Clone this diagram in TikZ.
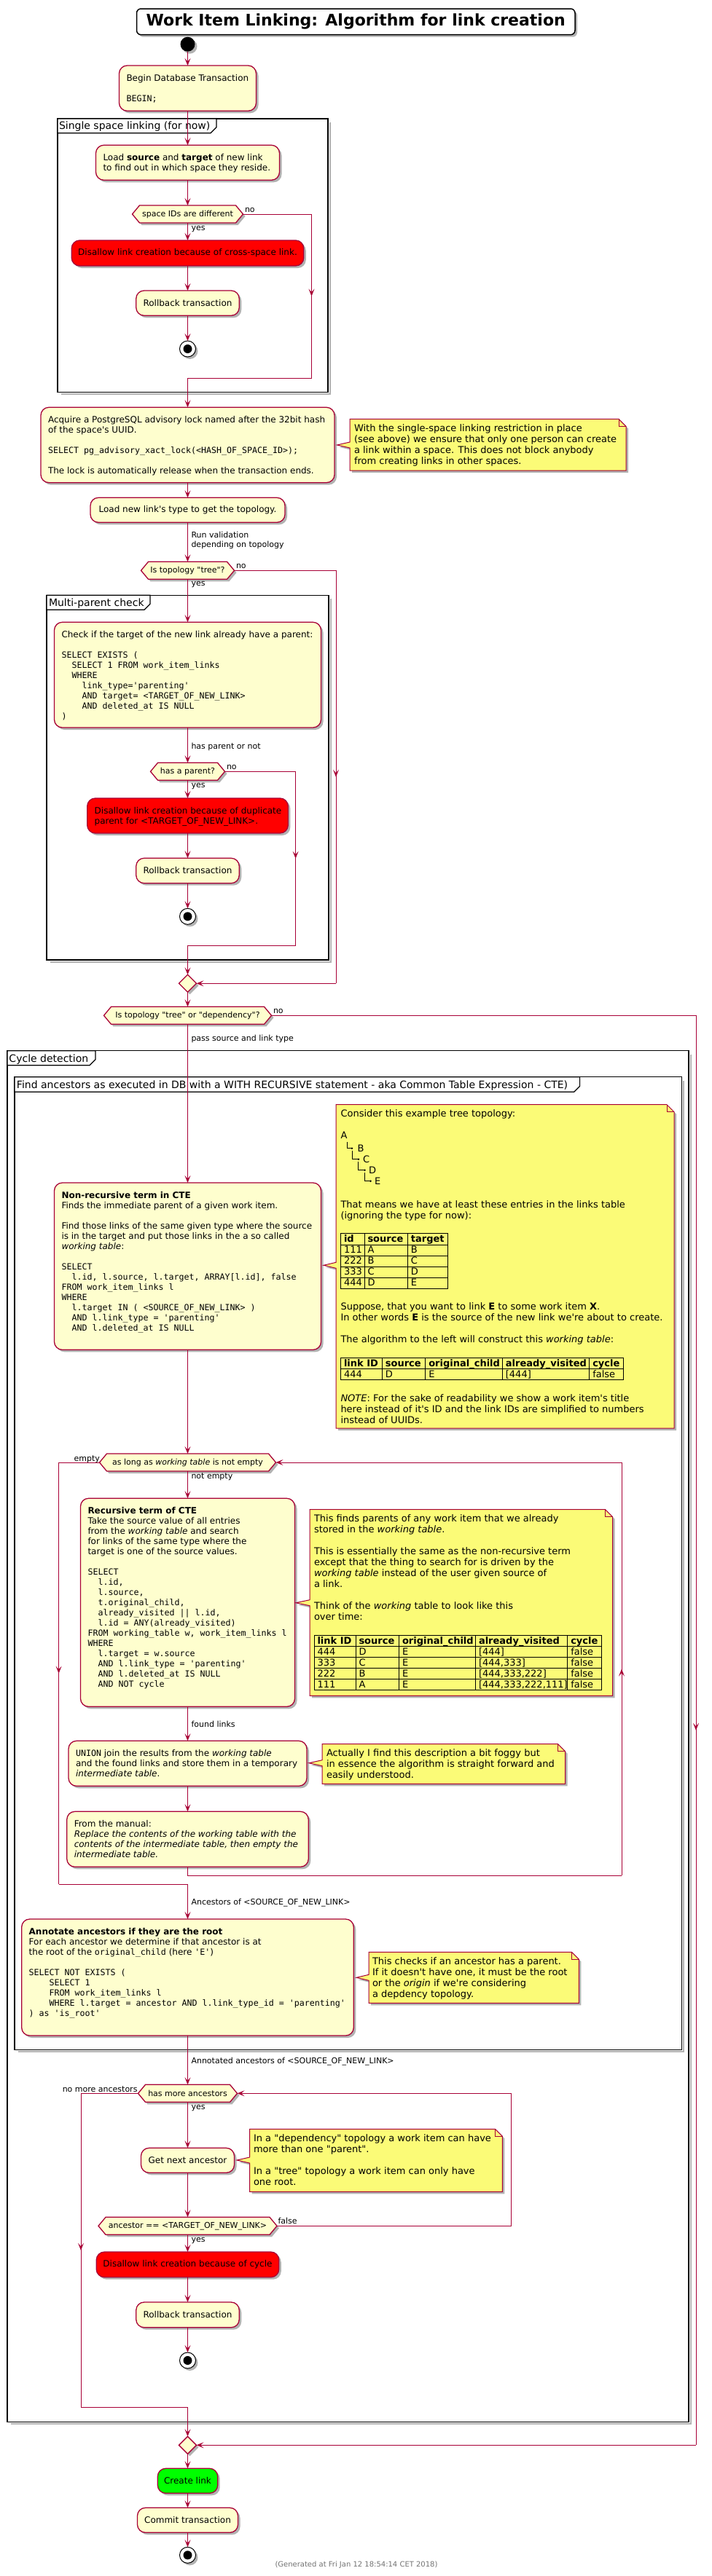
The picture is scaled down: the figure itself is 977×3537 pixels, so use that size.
\documentclass[tikz,border=0pt]{standalone}
\usepackage{fontspec}
\setmainfont{DejaVu Sans}
\newfontfamily\pumlfont{DejaVu Sans}
\newfontfamily\pumlmono{DejaVu Sans Mono}
\usetikzlibrary{arrows.meta,shadows,shapes.geometric,decorations.markings}

\definecolor{pbord}{HTML}{A80036}
\definecolor{pfill}{HTML}{FEFECE}
\definecolor{nfill}{HTML}{FBFB77}

\newcommand\actfont{\pumlfont\fontsize{12}{14}\selectfont}
\newcommand\notefont{\pumlfont\fontsize{13}{15}\selectfont}
\newcommand\lblfont{\pumlfont\fontsize{11}{13}\selectfont}
\newcommand\grpfont{\pumlfont\fontsize{14}{16}\selectfont}
\newcommand\titlefont{\pumlfont\bfseries\fontsize{22}{26}\selectfont}
\newcommand\footfont{\pumlfont\fontsize{10}{12}\selectfont}
\newcommand\mono[1]{{\pumlmono\fontsize{11.63}{14}\selectfont #1}}
\newcommand\bl{\mbox{}}
\newcommand\sk[1]{\hspace*{#1pt}}

\tikzset{
  every node/.style={inner sep=0pt, outer sep=0pt},
  shad/.style={drop shadow={shadow xshift=3pt, shadow yshift=-3pt, opacity=0.3, fill=black}},
  actbox/.style={draw=pbord, fill=pfill, line width=1.3pt, rounded corners=11pt, shad, anchor=north, font=\actfont},
  atext/.style={anchor=north west, align=left, font=\actfont},
  ntext/.style={anchor=north west, align=left, font=\notefont},
  lbl/.style={font=\lblfont, align=left},
  flow/.style={color=pbord, line width=1pt},
  arr/.style={flow, -{Stealth[length=10pt, width=8pt, inset=4.5pt]}},
  midarr/.style={postaction={decorate, decoration={markings, mark=at position 0.5 with {\arrow{Stealth[length=10pt, width=8pt, inset=4.5pt]}}}}},
  notebox/.style={draw=pbord, fill=nfill, line width=1pt, shad},
  hexshape/.style={draw=pbord, fill=pfill, line width=1.3pt, shad},
  grp/.style={draw=black, line width=1.5pt},
  grpshadow/.style={draw=black!30, line width=2pt},
  tbl/.style={draw=black, line width=1pt},
  stopc/.style={circle, draw=black, fill=white, line width=1pt, minimum size=22, shad,
    path picture={\fill[black] (path picture bounding box.center) circle[radius=6pt];}},
  mergec/.style={diamond, draw=pbord, fill=pfill, line width=1.3pt, minimum width=24, minimum height=24, shad},
}

\newcommand\hexdec[5]{%
  \path[hexshape] ({#2-#4},#3) -- ({#2-#4+10},{#3-12}) -- ({#2+#4-10},{#3-12}) -- ({#2+#4},#3) -- ({#2+#4-10},{#3+12}) -- ({#2-#4+10},{#3+12}) -- cycle;
  \node[font=\lblfont, minimum width={2*#4}, minimum height=24] (#1) at (#2,#3) {#5};
}
\newcommand\notepath[6]{%
  \path[notebox] (#1,#2) -- ({#3-10},#2) -- (#3,{#2+10}) -- (#3,#4) -- (#1,#4) -- (#1,{#6+4}) -- (#5,#6) -- (#1,{#6-4}) -- cycle;
  \draw[color=pbord, line width=1pt] ({#3-10},#2) -- ({#3-10},{#2+10}) -- (#3,{#2+10});
}
\newcommand\grpframe[9]{%
  \draw[grpshadow] ({#3+2.5},{#2+5}) -- ({#3+2.5},{#4+2.5}) -- ({#1+5},{#4+2.5});
  \draw[grp] (#1,#2) rectangle (#3,#4);
  \draw[grp, line width=1.2pt, fill=white] (#1,#2) -- (#5,#2) -- (#5,{#6-8}) -- ({#5-8},#6) -- (#1,#6) -- cycle;
  \node[font=\grpfont, anchor=base west] at (#8,#9) {#7};
}
\newcommand\tc[3]{\node[font=\notefont, anchor=base west] at (#1,#2) {#3};}

\begin{document}
\begin{tikzpicture}[x=1pt,y=-1pt]
\fill[white] (0,0) rectangle (977,3537);
\useasboundingbox (0,0) rectangle (977,3537);

% ---------------- groups ----------------
\grpframe{79}{163}{450}{538.7}{297}{182.7}{Single space linking (for now)}{81}{177.4}
\grpframe{64}{817.3}{451}{1318}{206}{837.3}{Multi-parent check}{67}{832.3}
\grpframe{10}{1442.7}{945}{3325.3}{131}{1462.7}{Cycle detection}{12.5}{1458.4}
\grpframe{20}{1478.7}{935.6}{2814.7}{795.6}{1499.3}{Find ancestors as executed in DB with a WITH RECURSIVE statement - aka Common Table Expression - CTE)}{23}{1494.4}

% ---------------- title ----------------
\node[draw=black, fill=white, line width=1.5pt, rounded corners=6pt, minimum width=601.5, minimum height=35.7, font=\titlefont, shad] (title) at (488.25,29.85) {Work Item Linking: Algorithm for link creation};

% ---------------- top part ----------------
\node[circle, fill=black, minimum size=20, shad] (start) at (257.5,60.7) {};

\node[actbox, minimum width=188, minimum height=62.3] (begin) at (257.5,90) {};
\node[atext] (tbegin) at (173.5,101.7) {\strut Begin Database Transaction\\\bl\\\mono{BEGIN;}};

\node[actbox, minimum width=252, minimum height=48] (load1) at (257.5,199.3) {};
\node[atext] (tload1) at (141.5,211) {\strut Load \textbf{source} and \textbf{target} of new link\\to find out in which space they reside.};

\hexdec{d1}{257.5}{294}{76}{space IDs are different}
\node[lbl, anchor=base west] (d1no) at (336,291.7) {no};
\node[lbl, anchor=base west] (d1yes) at (262.5,316.3) {yes};

\node[actbox, fill=red, minimum width=318.5, minimum height=35] (red1) at (257.5,330) {Disallow link creation because of cross-space link.};
\node[actbox, minimum width=141.5, minimum height=34.3] (rb1) at (257.5,399) {Rollback transaction};
\node[stopc] (stop1) at (257.5,479) {};

\node[actbox, minimum width=403, minimum height=103.4] (acq) at (257.5,559.3) {};
\node[atext] (tacq) at (66,571) {\strut Acquire a PostgreSQL advisory lock named after the 32bit hash\\of the space's UUID.\\\bl\\\mono{SELECT pg\_advisory\_xact\_lock(<HASH\_OF\_SPACE\_ID>);}\\\bl\\The lock is automatically release when the transaction ends.};

\notepath{480}{575.3}{859}{646}{462.5}{611}
\node[ntext] (tn1) at (486,581.8) {\strut With the single-space linking restriction in place\\(see above) we ensure that only one person can create\\a link within a space. This does not block anybody\\from creating links in other spaces.};

\node[actbox, minimum width=267, minimum height=34] (load2) at (257.5,683.3) {Load new link's type to get the topology.};
\node[lbl, anchor=north west] (lrun) at (262.5,729.2) {\strut Run validation\\depending on topology};

\hexdec{d2}{257.5}{783.3}{64}{Is topology "tree"?}
\node[lbl, anchor=base west] (d2no) at (324,780.3) {no};
\node[lbl, anchor=base west] (d2yes) at (262.5,804.3) {yes};

\node[actbox, minimum width=366, minimum height=144.7] (check) at (257.5,854.3) {};
\node[atext] (tcheck) at (84.5,866) {\strut Check if the target of the new link already have a parent:\\\bl\\\mono{SELECT EXISTS (}\\\mono{\sk{14}SELECT 1 FROM work\_item\_links}\\\mono{\sk{14}WHERE}\\\mono{\sk{28}link\_type='parenting'}\\\mono{\sk{28}AND target= <TARGET\_OF\_NEW\_LINK>}\\\mono{\sk{28}AND deleted\_at IS NULL}\\\mono{)}};

\node[lbl, anchor=base west] (lhas) at (262.5,1028.3) {has parent or not};
\hexdec{d3}{257.5}{1059.3}{51}{has a parent?}
\node[lbl, anchor=base west] (d3no) at (311,1056.3) {no};
\node[lbl, anchor=base west] (d3yes) at (262.5,1081.7) {yes};

\node[actbox, fill=red, minimum width=275.6, minimum height=48] (red2) at (257.5,1096) {};
\node[atext] (tred2) at (129.7,1107.7) {\strut Disallow link creation because of duplicate\\parent for <TARGET\_OF\_NEW\_LINK>.};
\node[actbox, minimum width=141.5, minimum height=34.4] (rb2) at (257.5,1178.3) {Rollback transaction};
\node[stopc] (stop2) at (257.5,1258.3) {};

\node[mergec] (m1) at (257.5,1350.3) {};

\hexdec{d4}{257.5}{1394.3}{115}{Is topology "tree" or "dependency"?}
\node[lbl, anchor=base west] (d4no) at (375,1391.7) {no};
\node[lbl, anchor=base west] (lpass) at (262.5,1429.3) {pass source and link type};

% ---------------- CTE part ----------------
\node[actbox, minimum width=366, minimum height=229.3] (nonrec) at (257.5,1624) {};
\node[atext] (tnonrec) at (84.5,1635.7) {\strut\textbf{Non-recursive term in CTE}\\Finds the immediate parent of a given work item.\\\bl\\Find those links of the same given type where the source\\is in the target and put those links in the a so called\\\textit{working table}:\\\bl\\\mono{SELECT}\\\mono{\sk{14}l.id, l.source, l.target, ARRAY[l.id], false}\\\mono{FROM work\_item\_links l}\\\mono{WHERE}\\\mono{\sk{14}l.target IN ( <SOURCE\_OF\_NEW\_LINK> )}\\\mono{\sk{14}AND l.link\_type = 'parenting'}\\\mono{\sk{14}AND l.deleted\_at IS NULL}};

\notepath{461}{1516.7}{925}{1961}{444}{1737.3}
\node[ntext] (tn2a) at (467.5,1523.2) {\strut Consider this example tree topology:\\\bl\\A};
\draw[black, line width=1pt] (476.3,1568) |- (483,1576.7);
\draw[black, line width=1pt] (483.8,1580) |- (492,1591.7);
\draw[black, line width=1pt] (491.9,1595) |- (500.5,1606.7);
\draw[black, line width=1pt] (500,1610) |- (508.5,1621.7);
\fill[black] (483,1576.7) circle[radius=1.3pt] (492,1591.7) circle[radius=1.3pt] (500.5,1606.7) circle[radius=1.3pt] (508.5,1621.7) circle[radius=1.3pt];
\tc{490.6}{1581.4}{B}
\tc{498}{1596.4}{C}
\tc{506}{1611.4}{D}
\tc{514}{1626.4}{E}
\node[ntext] (tn2b) at (467.5,1647.5) {\strut That means we have at least these entries in the links table\\(ignoring the type for now):};
% table 1
\draw[tbl] (467.5,1693.3) rectangle (614.4,1769.3);
\foreach \yy in {1709,1724,1739,1754.3} {\draw[tbl] (467.5,\yy) -- (614.4,\yy);}
\foreach \xx in {500,559.4} {\draw[tbl] (\xx,1693.3) -- (\xx,1769.3);}
\tc{472}{1705.5}{\textbf{id}}\tc{504.5}{1705.5}{\textbf{source}}\tc{563.9}{1705.5}{\textbf{target}}
\tc{472}{1720.5}{111}\tc{504.5}{1720.5}{A}\tc{563.9}{1720.5}{B}
\tc{472}{1735.5}{222}\tc{504.5}{1735.5}{B}\tc{563.9}{1735.5}{C}
\tc{472}{1750.7}{333}\tc{504.5}{1750.7}{C}\tc{563.9}{1750.7}{D}
\tc{472}{1765.8}{444}\tc{504.5}{1765.8}{D}\tc{563.9}{1765.8}{E}
\node[ntext] (tn2c) at (467.5,1787.5) {\strut Suppose, that you want to link \textbf{E} to some work item \textbf{X}.\\In other words \textbf{E} is the source of the new link we're about to create.\\\bl\\The algorithm to the left will construct this \textit{working table}:};
% table 2
\draw[tbl] (467.5,1864.3) rectangle (855.6,1894.3);
\draw[tbl] (467.5,1879.3) -- (855.6,1879.3);
\foreach \xx in {524.4,583.75,689.4,808.75} {\draw[tbl] (\xx,1864.3) -- (\xx,1894.3);}
\tc{472}{1876}{\textbf{link ID}}\tc{528.9}{1876}{\textbf{source}}\tc{588.25}{1876}{\textbf{original\_child}}\tc{693.9}{1876}{\textbf{already\_visited}}\tc{813.25}{1876}{\textbf{cycle}}
\tc{472}{1891}{444}\tc{528.9}{1891}{D}\tc{588.25}{1891}{E}\tc{693.9}{1891}{[444]}\tc{813.25}{1891}{false}
\node[ntext] (tn2d) at (467.5,1913.5) {\strut\textit{NOTE}: For the sake of readability we show a work item's title\\here instead of it's ID and the link IDs are simplified to numbers\\instead of UUIDs.};

\hexdec{d5}{257.5}{2008}{121}{as long as \textit{working table} is not empty}
\node[lbl, anchor=base east] (d5empty) at (137,2006) {empty};
\node[lbl, anchor=base west] (d5not) at (262.5,2030.3) {not empty};

\node[actbox, minimum width=294, minimum height=286] (rec) at (257.5,2057.3) {};
\node[atext] (trec) at (120.5,2069) {\strut\textbf{Recursive term of CTE}\\Take the source value of all entries\\from the \textit{working table} and search\\for links of the same type where the\\target is one of the source values.\\\bl\\\mono{SELECT}\\\mono{\sk{14}l.id,}\\\mono{\sk{14}l.source,}\\\mono{\sk{14}t.original\_child,}\\\mono{\sk{14}already\_visited || l.id,}\\\mono{\sk{14}l.id = ANY(already\_visited)}\\\mono{FROM working\_table w, work\_item\_links l}\\\mono{WHERE}\\\mono{\sk{14}l.target = w.source}\\\mono{\sk{14}AND l.link\_type = 'parenting'}\\\mono{\sk{14}AND l.deleted\_at IS NULL}\\\mono{\sk{14}AND NOT cycle}};

\notepath{425}{2072.7}{840.6}{2328.3}{406}{2200.7}
\node[ntext] (tn3) at (431,2078.9) {\strut This finds parents of any work item that we already\\stored in the \textit{working table}.\\\bl\\This is essentially the same as the non-recursive term\\except that the thing to search for is driven by the\\\textit{working table} instead of the user given source of\\a link.\\\bl\\Think of the \textit{working} table to look like this\\over time:};
% table 3
\draw[tbl] (431,2245.7) rectangle (825.6,2320.7);
\foreach \yy in {2260.7,2275.7,2290.7,2305.7} {\draw[tbl] (431,\yy) -- (825.6,\yy);}
\foreach \xx in {488,547.5,652.5,778.75} {\draw[tbl] (\xx,2245.7) -- (\xx,2320.7);}
\tc{435.5}{2257.4}{\textbf{link ID}}\tc{492.5}{2257.4}{\textbf{source}}\tc{552}{2257.4}{\textbf{original\_child}}\tc{657}{2257.4}{\textbf{already\_visited}}\tc{783.25}{2257.4}{\textbf{cycle}}
\tc{435.5}{2272.4}{444}\tc{492.5}{2272.4}{D}\tc{552}{2272.4}{E}\tc{657}{2272.4}{[444]}\tc{783.25}{2272.4}{false}
\tc{435.5}{2287.4}{333}\tc{492.5}{2287.4}{C}\tc{552}{2287.4}{E}\tc{657}{2287.4}{[444,333]}\tc{783.25}{2287.4}{false}
\tc{435.5}{2302.4}{222}\tc{492.5}{2302.4}{B}\tc{552}{2302.4}{E}\tc{657}{2302.4}{[444,333,222]}\tc{783.25}{2302.4}{false}
\tc{435.5}{2317.4}{111}\tc{492.5}{2317.4}{A}\tc{552}{2317.4}{E}\tc{657}{2317.4}{[444,333,222,111]}\tc{783.25}{2317.4}{false}

\node[lbl, anchor=base west] (lfound) at (262.5,2371) {found links};

\node[actbox, minimum width=327, minimum height=62] (union) at (257.5,2390.3) {};
\node[atext] (tunion) at (104,2402) {\strut\mono{UNION} join the results from the \textit{working table}\\and the found links and store them in a temporary\\\textit{intermediate table}.};

\notepath{442}{2394.7}{775.6}{2449.3}{424}{2420.7}
\node[ntext] (tn4) at (448,2401.2) {\strut Actually I find this description a bit foggy but\\in essence the algorithm is straight forward and\\easily understood.};

\node[actbox, minimum width=331.5, minimum height=76] (manual) at (257.5,2487.3) {};
\node[atext] (tmanual) at (101.75,2499) {\strut From the manual:\\\textit{Replace the contents of the working table with the}\\\textit{contents of the intermediate table, then empty the}\\\textit{intermediate table.}};

\node[lbl, anchor=base west] (lanc) at (262.5,2615) {Ancestors of <SOURCE\_OF\_NEW\_LINK>};

\node[actbox, minimum width=455.6, minimum height=160] (annot) at (257.5,2635) {};
\node[atext] (tannot) at (39.7,2646.7) {\strut\textbf{Annotate ancestors if they are the root}\\For each ancestor we determine if that ancestor is at\\the root of the \mono{original\_child} (here \mono{'E'})\\\bl\\\mono{SELECT NOT EXISTS (}\\\mono{\sk{28}SELECT 1}\\\mono{\sk{28}FROM work\_item\_links l}\\\mono{\sk{28}WHERE l.target = ancestor AND l.link\_type\_id = 'parenting'}\\\mono{) as 'is\_root'}};

\notepath{506}{2680.3}{794.4}{2750.3}{489}{2715.3}
\node[ntext] (tn5) at (511,2686.8) {\strut This checks if an ancestor has a parent.\\If it doesn't have one, it must be the root\\or the \textit{origin} if we're considering\\a depdency topology.};

\node[lbl, anchor=base west] (lannot) at (262.5,2833) {Annotated ancestors of <SOURCE\_OF\_NEW\_LINK>};

\hexdec{d6}{257.5}{2874.3}{68}{has more ancestors}
\node[lbl, anchor=base east] (d6no) at (188.5,2872) {no more ancestors};
\node[lbl, anchor=base west] (d6yes) at (262.5,2896.7) {yes};

\node[actbox, minimum width=128, minimum height=34] (next) at (257.5,2949.3) {Get next ancestor};
\notepath{342.5}{2923.3}{689.4}{3009.3}{325}{2966}
\node[ntext] (tn6) at (348,2929.8) {\strut In a "dependency" topology a work item can have\\more than one "parent".\\\bl\\In a "tree" topology a work item can only have\\one root.};

\hexdec{d7}{257.5}{3056.3}{122.5}{ancestor == <TARGET\_OF\_NEW\_LINK>}
\node[lbl, anchor=base west] (d7false) at (381.5,3053.5) {false};
\node[lbl, anchor=base west] (d7yes) at (262.5,3078.7) {yes};

\node[actbox, fill=red, minimum width=250.5, minimum height=34.7] (red3) at (257.5,3092) {Disallow link creation because of cycle};
\node[actbox, minimum width=141.5, minimum height=34.7] (rb3) at (257.5,3161) {Rollback transaction};
\node[stopc] (stop3) at (257.5,3241) {};

\node[mergec] (m2) at (257.5,3357.3) {};
\node[actbox, fill=green, minimum width=82.4, minimum height=34] (create) at (257.5,3389.3) {Create link};
\node[actbox, minimum width=138, minimum height=34] (commit) at (257.5,3443.3) {Commit transaction};
\node[stopc] (stop4) at (257.5,3508.3) {};

\node[font=\footfont, text=black!55] (foot) at (489,3521.7) {(Generated at Fri Jan 12 18:54:14 CET 2018)};

% ---------------- connectors ----------------
\coordinate (k1a) at (427.5,294);   \coordinate (k1b) at (427.5,519.3);
\coordinate (k2a) at (461,783.3);   \coordinate (k2b) at (461,1350.3);
\coordinate (k3a) at (405.6,1059.3);\coordinate (k3b) at (405.6,1298.3);
\coordinate (k4a) at (955,1394.3);  \coordinate (k4b) at (955,3357.3);
\coordinate (k5a) at (257.5,2575.3);\coordinate (k5b) at (853,2575.3); \coordinate (k5c) at (853,2008);
\coordinate (k6a) at (80.6,2008);   \coordinate (k6b) at (80.6,2587.3);
\coordinate (k7a) at (701,3056.3);  \coordinate (k7b) at (701,2874.3);
\coordinate (k8a) at (111,2874.3);  \coordinate (k8b) at (111,3305.3);

\draw[arr] (start) -- (begin.north);
\draw[arr] (begin.south) -- (load1.north);
\draw[arr] (load1.south) -- (d1.north);
\draw[arr] (d1.south) -- (red1.north);
\draw[arr] (red1.south) -- (rb1.north);
\draw[arr] (rb1.south) -- (stop1.north);
\draw[flow] (d1.east) -- (k1a);
\draw[flow, midarr] (k1a) -- (k1b);
\draw[arr] (k1b) -- (k1b -| acq.north) -- (acq.north);

\draw[arr] (acq.south) -- (load2.north);
\draw[arr] (load2.south) -- (d2.north);
\draw[arr] (d2.south) -- (check.north);
\draw[arr] (check.south) -- (d3.north);
\draw[arr] (d3.south) -- (red2.north);
\draw[arr] (red2.south) -- (rb2.north);
\draw[arr] (rb2.south) -- (stop2.north);
\draw[flow] (d3.east) -- (k3a);
\draw[flow, midarr] (k3a) -- (k3b);
\draw[arr] (k3b) -- (k3b -| m1.north) -- (m1.north);
\draw[flow] (d2.east) -- (k2a);
\draw[flow, midarr] (k2a) -- (k2b);
\draw[arr] (k2b) -- (m1.east);

\draw[arr] (m1.south) -- (d4.north);
\draw[arr] (d4.south) -- (nonrec.north);
\draw[flow] (d4.east) -- (k4a);
\draw[flow, midarr] (k4a) -- (k4b);
\draw[arr] (k4b) -- (m2.east);

\draw[arr] (nonrec.south) -- (d5.north);
\draw[arr] (d5.south) -- (rec.north);
\draw[arr] (rec.south) -- (union.north);
\draw[arr] (union.south) -- (manual.north);
\draw[flow] (manual.south) -- (k5a) -- (k5b);
\draw[flow, midarr] (k5b) -- (k5c);
\draw[arr] (k5c) -- (d5.east);
\draw[flow] (d5.west) -- (k6a);
\draw[flow, midarr] (k6a) -- (k6b);
\draw[arr] (k6b) -- (k6b -| annot.north) -- (annot.north);

\draw[arr] (annot.south) -- (d6.north);
\draw[arr] (d6.south) -- (next.north);
\draw[arr] (next.south) -- (d7.north);
\draw[arr] (d7.east) -- (k7a) -- (k7b) -- (d6.east);
\draw[arr] (d7.south) -- (red3.north);
\draw[arr] (red3.south) -- (rb3.north);
\draw[arr] (rb3.south) -- (stop3.north);
\draw[flow] (d6.west) -- (k8a);
\draw[flow, midarr] (k8a) -- (k8b);
\draw[arr] (k8b) -- (k8b -| m2.north) -- (m2.north);

\draw[arr] (m2.south) -- (create.north);
\draw[arr] (create.south) -- (commit.north);
\draw[arr] (commit.south) -- (stop4.north);
\end{tikzpicture}
\end{document}
